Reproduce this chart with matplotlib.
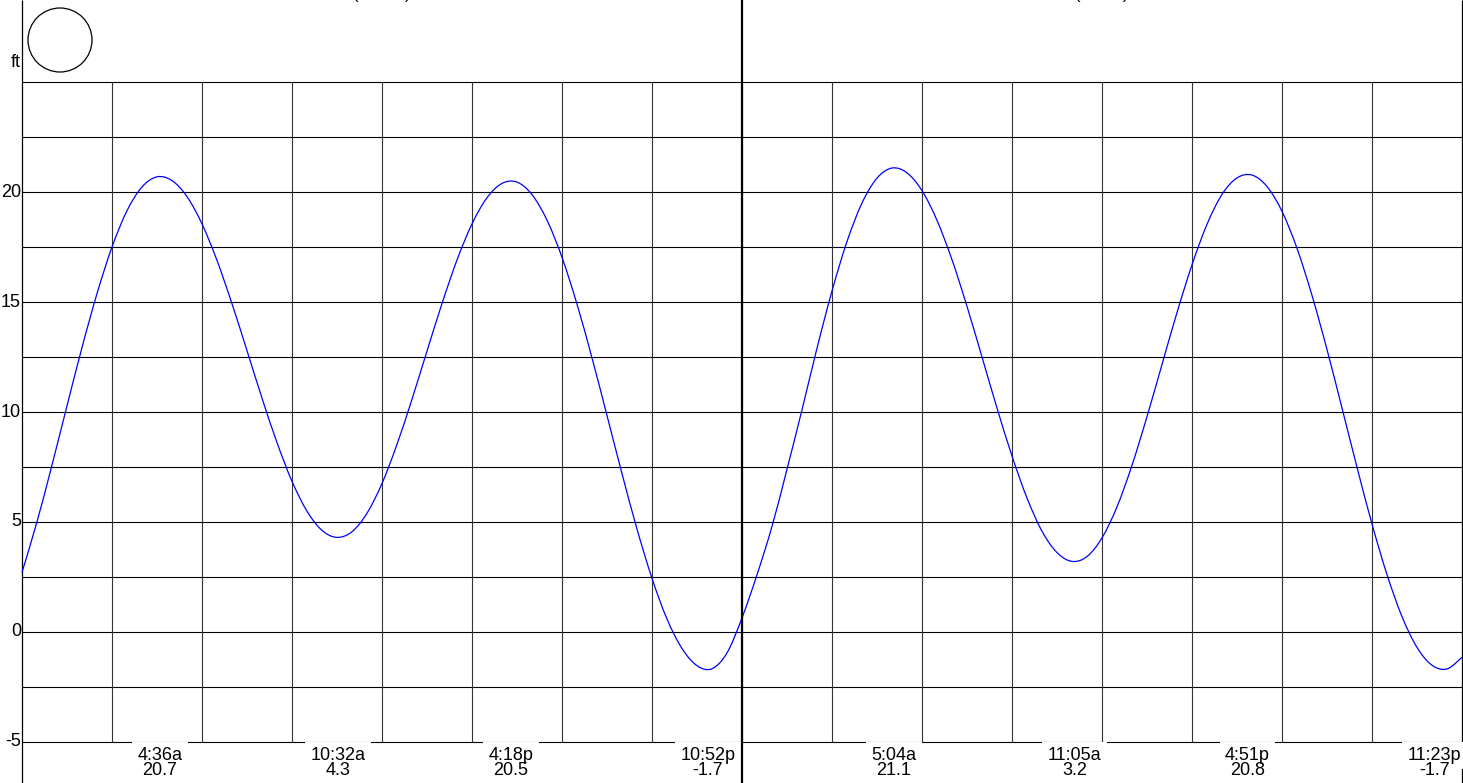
import numpy as np
import matplotlib.pyplot as plt
from matplotlib.patches import Ellipse, PathPatch
from matplotlib.path import Path

plt.rcParams['font.family'] = ['Liberation Sans', 'DejaVu Sans']

# tide height (ft) every half hour over two days, hour 0 = first midnight
hours = np.arange(0, 48.5, 0.5)
heights = [
    2.71, 5.01, 7.59, 10.28, 12.93, 15.38, 17.50, 19.15, 20.23, 20.69,
    20.52, 19.79, 18.55, 16.89, 14.92, 12.79, 10.63, 8.61, 6.85, 5.49,
    4.62, 4.30, 4.56, 5.40, 6.75, 8.53, 10.58, 12.77, 14.93, 16.91,
    18.55, 19.74, 20.39, 20.45, 19.88, 18.72, 17.03, 14.90, 12.46, 9.84,
    7.20, 4.68, 2.44, 0.59, -0.75, -1.53, -1.67, -0.95, 0.64, 2.60,
    4.80, 7.40, 10.10, 12.90, 15.50, 17.75, 19.50, 20.63, 21.09, 20.87,
    20.06, 18.71, 16.92, 14.80, 12.50, 10.18, 8.00, 6.09, 4.58, 3.61,
    3.21, 3.43, 4.28, 5.69, 7.58, 9.79, 12.16, 14.52, 16.69, 18.53,
    19.89, 20.64, 20.77, 20.25, 19.12, 17.44, 15.30, 12.84, 10.18, 7.49,
    4.91, 2.61, 0.70, -0.70, -1.51, -1.68, -1.15,
]

# high / low tides
event_hours = [4.6, 10.533, 16.3, 22.867, 29.067, 35.083, 40.85, 47.383]
event_heights = [20.7, 4.3, 20.5, -1.7, 21.1, 3.2, 20.8, -1.7]
event_labels = ['4:36a', '10:32a', '4:18p', '10:52p', '5:04a', '11:05a', '4:51p', '11:23p']

day_titles = ['(Mon 1)', '(Tue 2)']
y_ticks = [-5, 0, 5, 10, 15, 20]


def smooth_path(x, y):
    # catmull-rom through the samples, drawn as cubic bezier pieces
    p = np.column_stack([x, y])
    p = np.vstack([p[0], p, p[-1]])
    verts = [p[1]]
    codes = [Path.MOVETO]
    for i in range(1, len(p) - 2):
        c1 = p[i] + (p[i + 1] - p[i - 1]) / 6
        c2 = p[i + 1] - (p[i + 2] - p[i]) / 6
        verts += [c1, c2, p[i + 1]]
        codes += [Path.CURVE4] * 3
    return Path(verts, codes)


W, H = 1463, 783
fig = plt.figure(figsize=(W / 100, H / 100), dpi=100)
ax = fig.add_axes([0, 0, 1, 1])
# 30 px per hour, 22 px per foot, origin at pixel (22, 632)
ax.set_xlim(-22 / 30, (W - 22) / 30)
ax.set_ylim(-(H - 632) / 22, 632 / 22)
ax.axis('off')

ymin, ymax = -5, 25
bot, top = ax.get_ylim()

# grid
ax.hlines(np.arange(ymin, ymax + 0.1, 2.5), 0, 48, color='black', lw=0.8, zorder=1)
ax.vlines(np.arange(3, 48, 3), ymin, ymax, color='#333333', lw=0.8, zorder=1)
ax.vlines([0, 48], bot, top, color='black', lw=0.9, zorder=1)
ax.vlines([24], bot, top, color='black', lw=1.6, zorder=7)

ax.add_patch(PathPatch(smooth_path(hours, heights), fill=False,
                       ec='#0000ff', lw=0.9, zorder=3))

for v in y_ticks:
    ax.text(-0.03, v, str(v), ha='right', va='center', fontsize=13)
ax.text(-0.03, 25.9, 'ft', ha='right', va='center', fontsize=13)

ax.add_patch(Ellipse((38 / 30, (632 - 40) / 22), 64 / 30, 64 / 22,
                     fill=False, ec='black', lw=0.9))

for i, title in enumerate(day_titles):
    ax.text(12 + 24 * i, (632 + 1) / 22, title, ha='center', va='baseline',
            fontsize=12)

renderer = fig.canvas.get_renderer()
y_time = (632 - 760) / 22
y_height = (632 - 775) / 22
for t, h, lab in zip(event_hours, event_heights, event_labels):
    x, ha = t, 'center'
    if t > 47:
        x, ha = 48 - 0.02, 'right'
    tt = ax.text(x, y_time, lab, ha=ha, va='baseline', fontsize=13, zorder=5,
                 bbox=dict(boxstyle='square,pad=0.3', fc='white', ec='none'))
    if ha == 'right':
        bb = tt.get_window_extent(renderer).transformed(ax.transData.inverted())
        x = (bb.x0 + bb.x1) / 2
    ax.text(x, y_height, f'{h:.1f}', ha='center', va='baseline', fontsize=13,
            zorder=6)

fig.savefig('out.png', dpi=100)
